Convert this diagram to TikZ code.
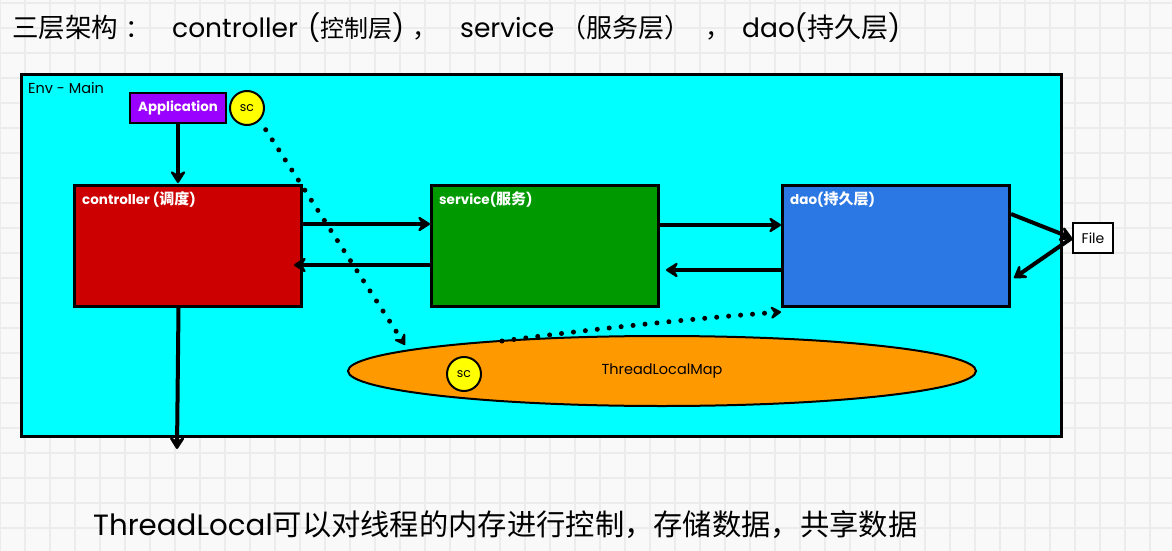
\documentclass[tikz,border=0pt]{standalone}
\usepackage{fontspec}
\setmainfont{Poppins}
\newfontfamily\cjk{Noto Sans CJK SC}
\usetikzlibrary{arrows.meta,shapes.geometric}
\definecolor{bgc}{HTML}{F9F9F9}
\definecolor{gridc}{HTML}{ECECEC}
\definecolor{envc}{HTML}{00FFFF}
\definecolor{appc}{HTML}{9900FF}
\definecolor{ctrlc}{HTML}{CC0000}
\definecolor{svcc}{HTML}{009900}
\definecolor{daoc}{HTML}{2B78E4}
\definecolor{mapc}{HTML}{FF9900}
\definecolor{scc}{HTML}{FFFF00}
\newcommand{\seg}[2]{\makebox[#1pt][l]{#2}}
\begin{document}
\begin{tikzpicture}[x=1pt,y=-1pt,
  gridline/.style={draw=gridc,line width=1.5pt},
  layerbox/.style={draw=black,line width=3pt,minimum width=227pt,minimum height=121pt,anchor=north west,inner sep=0pt},
  boxlabel/.style={text=white,font=\bfseries\fontsize{13.5}{15}\selectfont,anchor=north west,inner sep=0pt},
  scnode/.style={circle,draw=black,line width=2pt,fill=scc,minimum size=34pt,inner sep=0pt,font=\fontsize{12.5}{14}\selectfont},
  arr/.style={line width=4pt,-{Stealth[length=15pt,width=19pt,inset=6pt,round]}},
  dotarr/.style={line width=5pt,line cap=round,dash pattern=on 0pt off 12pt,-{Stealth[length=13pt,width=16pt,inset=5pt,round]}}
]
\useasboundingbox (0,0) rectangle (1172,551);
\fill[bgc] (0,0) rectangle (1172,551);
\foreach \x in {0,25,...,1175} \draw[gridline] (\x,0) -- (\x,551);
\foreach \y in {3,28,...,553} \draw[gridline] (0,\y) -- (1172,\y);

% title
\node[anchor=west,inner sep=0pt,font=\fontsize{26.5}{30}\selectfont] (title) at (12,28)
 {\seg{113}{\cjk\fontsize{26.5}{30}\selectfont 三层架构}%
  \seg{47}{\cjk\fontsize{25}{30}\selectfont ：}%
  \seg{136}{controller}%
  \seg{104}{({\cjk\fontsize{24}{30}\selectfont 控制层})}%
  \seg{48}{\cjk\fontsize{25}{30}\selectfont ，}%
  \seg{100}{service}%
  \seg{145}{\cjk\fontsize{26}{30}\selectfont （服务层）}%
  \seg{37}{\cjk\fontsize{25}{30}\selectfont ，}%
  dao({\cjk\fontsize{27}{30}\selectfont 持久层})};

% environment
\node[draw=black,line width=3pt,fill=envc,minimum width=1040pt,minimum height=362pt,anchor=north west,inner sep=0pt] (env) at (20,73) {};
\node[anchor=west,inner sep=0pt,font=\fontsize{14.5}{16}\selectfont] (envlbl) at (28,88) {Env - Main};

\node[draw=black,line width=2.5pt,fill=appc,text=white,font=\bfseries\fontsize{13.3}{15}\selectfont,minimum width=96pt,minimum height=30pt,inner sep=0pt] (app) at (178,108) {Application};
\node[scnode] (sc1) at (247,108) {sc};

\node[layerbox,fill=ctrlc] (ctrl) at (73,184) {};
\node[boxlabel] (ctrllbl) at (82,191) {controller ({\cjk\fontsize{15}{16}\selectfont 调度})};
\node[layerbox,fill=svcc] (svc) at (430,184) {};
\node[boxlabel] (svclbl) at (439,191) {service({\cjk\fontsize{15}{16}\selectfont 服务})};
\node[layerbox,fill=daoc] (dao) at (781,184) {};
\node[boxlabel] (daolbl) at (790,191) {dao({\cjk\fontsize{15}{16}\selectfont 持久层})};

\node[draw=black,line width=2.5pt,fill=white,minimum width=40pt,minimum height=30pt,inner sep=0pt,font=\fontsize{14}{16}\selectfont] (file) at (1093,238) {File};

\node[ellipse,draw=black,line width=2pt,fill=mapc,minimum width=628pt,minimum height=70pt,inner sep=0pt,font=\fontsize{14.5}{16}\selectfont] (map) at (662,371) {ThreadLocalMap};
\node[scnode] (sc2) at (464,374) {sc};

% connectors
\draw[arr] (app.south) -- ([yshift=1pt]app.south |- ctrl.north);
\draw[arr] ([yshift=-40pt]ctrl.north east) -- ([yshift=-40pt]svc.north west);
\draw[arr] ([yshift=-81pt]svc.north west) -- ([xshift=-9pt,yshift=-81pt]ctrl.north east);
\draw[arr] ([yshift=-41pt]svc.north east) -- ([yshift=-41pt]dao.north west);
\draw[arr] ([yshift=-86pt]dao.north west) -- ([xshift=6pt,yshift=-86pt]svc.north east);
\draw[arr] ([yshift=-30pt]dao.north east) -- (file.west);
\draw[arr] (file.west) -- ([xshift=3pt,yshift=-94pt]dao.north east);
\coordinate (down) at (177,449);
\draw[arr] ([xshift=-9.5pt]ctrl.south) -- (down);

\coordinate (mapin) at (405,345);
\coordinate (mapout) at (502,341);
\draw[dotarr] (sc1.south east) ++(6,9) -- (mapin);
\draw[dotarr] (mapout) .. controls (600,328) and (700,318) .. ([yshift=-128pt]dao.north west);

% bottom text
\node[anchor=west,inner sep=0pt,font=\fontsize{29.3}{32}\selectfont] (note) at (93,525)
 {ThreadLocal{\cjk 可以对线程的内存进行控制，存储数据，共享数据}};
\end{tikzpicture}
\end{document}
